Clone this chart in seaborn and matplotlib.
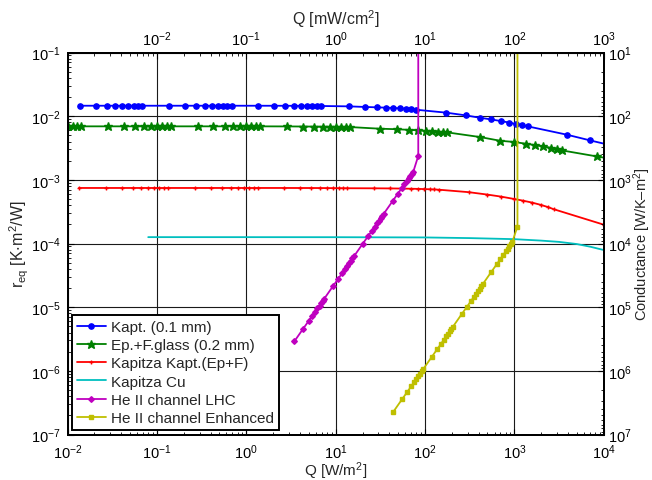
import matplotlib
matplotlib.use("Agg")
import matplotlib.pyplot as plt
import seaborn as sns
from matplotlib.ticker import LogLocator, NullFormatter, LogFormatterMathtext, FixedLocator

# ---------------- data ----------------
kapt_q = [0.0137, 0.0206, 0.0274, 0.0343, 0.0411, 0.0480, 0.0548, 0.0617, 0.0685,
          0.137, 0.206, 0.274, 0.343, 0.411, 0.480, 0.548, 0.617, 0.685,
          1.37, 2.06, 2.74, 3.43, 4.11, 4.80, 5.48, 6.17, 6.86,
          14.0, 21.2, 28.7, 36.2, 44.1, 52.3, 60.6, 69.0, 78.5,
          173, 285, 409, 544, 704, 873, 1037, 1233, 1425,
          3865, 7060, 11200]
kapt_r = [0.01459, 0.01459, 0.01459, 0.01459, 0.01459, 0.01459, 0.01459, 0.01459, 0.01459,
          0.01459, 0.01459, 0.01459, 0.01459, 0.01459, 0.01459, 0.01459, 0.01459, 0.01459,
          0.01458, 0.01457, 0.01456, 0.01455, 0.01453, 0.01451, 0.01449, 0.01447, 0.01445,
          0.01426, 0.01396, 0.01377, 0.01361, 0.01346, 0.01327, 0.01312, 0.01297, 0.01265,
          0.01135, 0.01030, 0.00946, 0.00891, 0.00839, 0.00794, 0.00753, 0.00726, 0.00690,
          0.00512, 0.00416, 0.00357]

glass_q = [0.0100, 0.0114, 0.0129, 0.0143, 0.0286, 0.0429, 0.0572, 0.0715, 0.0858, 0.100, 0.114, 0.129, 0.143,
           0.286, 0.429, 0.572, 0.715, 0.858, 1.00, 1.14, 1.29, 1.43,
           2.87, 4.31, 5.75, 7.20, 8.66, 10.1, 11.6, 13.1, 14.6,
           31.5, 48.1, 65.6, 83.5, 101.9, 120.7, 140.4, 160.1, 178,
           413, 692, 993, 1343, 1693, 2118, 2560, 2987, 3457,
           8394, 14830]
glass_r = [0.00692, 0.00692, 0.00692, 0.00692, 0.00692, 0.00692, 0.00692, 0.00692, 0.00692, 0.00692, 0.00692, 0.00692, 0.00692,
           0.00692, 0.00692, 0.00692, 0.00692, 0.00692, 0.00692, 0.00692, 0.00692, 0.00692,
           0.00690, 0.00688, 0.00686, 0.00684, 0.00682, 0.00680, 0.00678, 0.00676, 0.00674,
           0.00635, 0.00624, 0.00610, 0.00599, 0.00589, 0.00580, 0.00570, 0.00562, 0.00556,
           0.00470, 0.00411, 0.00393, 0.00369, 0.00352, 0.00334, 0.00319, 0.00304, 0.00289,
           0.00233, 0.00203]

kapkap_q = [0.0134, 0.0268, 0.0403, 0.0537, 0.0671, 0.0805, 0.0940, 0.107, 0.121, 0.134,
            0.268, 0.403, 0.537, 0.671, 0.805, 0.940, 1.07, 1.21, 1.34,
            2.68, 4.03, 5.37, 6.71, 8.06, 9.41, 10.8, 12.1, 13.5,
            27.2, 40.9, 54.9, 69.0, 83.2, 97.8, 112.5, 127.5, 142.9,
            309, 497, 705, 983, 1240, 1570, 1980, 2400, 2750,
            10200]
kapkap_r = [7.45e-4, 7.45e-4, 7.45e-4, 7.45e-4, 7.45e-4, 7.45e-4, 7.45e-4, 7.45e-4, 7.45e-4, 7.45e-4,
            7.45e-4, 7.45e-4, 7.45e-4, 7.45e-4, 7.45e-4, 7.45e-4, 7.45e-4, 7.45e-4, 7.45e-4,
            7.45e-4, 7.44e-4, 7.44e-4, 7.43e-4, 7.42e-4, 7.41e-4, 7.40e-4, 7.39e-4, 7.38e-4,
            7.36e-4, 7.33e-4, 7.29e-4, 7.25e-4, 7.21e-4, 7.16e-4, 7.11e-4, 7.06e-4, 7.00e-4,
            6.40e-4, 5.87e-4, 5.46e-4, 5.02e-4, 4.72e-4, 4.40e-4, 4.04e-4, 3.72e-4, 3.46e-4,
            1.96e-4]

kapcu_q = [0.08, 1.0, 10.0, 100.0, 316, 1000, 2000, 3162, 5012, 7079, 10000]
kapcu_r = [1.259e-4, 1.258e-4, 1.256e-4, 1.245e-4, 1.216e-4, 1.17e-4, 1.11e-4, 1.06e-4, 9.8e-5, 8.9e-5, 7.9e-5]

lhc_q = [3.451, 4.345, 4.977, 5.483, 5.902, 6.266, 6.607, 6.902, 7.178, 7.430,
         9.354, 10.72, 11.80, 12.71, 13.49, 14.22, 14.86, 15.45, 16.00,
         20.14, 23.07, 25.41, 27.35, 29.04, 30.62, 31.99, 33.27, 34.43,
         43.35, 49.66, 54.70, 58.88, 62.52, 65.92, 68.87, 71.61, 74.13,
         84.14, 84.14]
lhc_r = [2.898e-6, 4.603e-6, 6.028e-6, 7.295e-6, 8.472e-6, 9.575e-6, 1.0595e-5, 1.1591e-5, 1.2538e-5, 1.3459e-5,
         2.138e-5, 2.799e-5, 3.390e-5, 3.934e-5, 4.448e-5, 4.923e-5, 5.384e-5, 5.825e-5, 6.25e-5,
         9.93e-5, 1.300e-4, 1.574e-4, 1.828e-4, 2.066e-4, 2.286e-4, 2.501e-4, 2.705e-4, 2.904e-4,
         4.614e-4, 6.041e-4, 7.313e-4, 8.492e-4, 9.597e-4, 1.0619e-3, 1.1616e-3, 1.2568e-3, 1.349e-3,
         2.377e-3, 10.0]

enh_q = [44.16, 55.59, 63.68, 70.15, 75.51, 80.17, 84.53, 88.31, 91.83, 95.06,
         119.7, 137.1, 151.0, 162.6, 172.6, 182.0, 190.1, 197.7, 204.6,
         257.6, 295.1, 325.1, 349.9, 371.5, 391.7, 409.3, 425.6, 440.6,
         554.6, 635.3, 699.8, 753.4, 799.8, 843.3, 881.0, 916.2, 948.4,
         1084, 1084]
enh_r = [2.264e-7, 3.598e-7, 4.711e-7, 5.702e-7, 6.622e-7, 7.484e-7, 8.281e-7, 9.059e-7, 9.801e-7, 1.052e-6,
         1.671e-6, 2.188e-6, 2.649e-6, 3.075e-6, 3.476e-6, 3.846e-6, 4.208e-6, 4.552e-6, 4.888e-6,
         7.764e-6, 1.0166e-5, 1.2304e-5, 1.429e-5, 1.615e-5, 1.787e-5, 1.955e-5, 2.115e-5, 2.270e-5,
         3.606e-5, 4.722e-5, 5.716e-5, 6.637e-5, 7.502e-5, 8.301e-5, 9.081e-5, 9.823e-5, 1.0544e-4,
         1.845e-4, 10.0]

labels = ["Kapt. (0.1 mm)", "Ep.+F.glass (0.2 mm)", "Kapitza Kapt.(Ep+F)",
          "Kapitza Cu", "He II channel LHC", "He II channel Enhanced"]
bottom_ticks = [1e-2, 1e-1, 1e0, 1e1, 1e2, 1e3, 1e4]
top_ticks = [1e-2, 1e-1, 1e0, 1e1, 1e2, 1e3]
left_ticks = [1e-7, 1e-6, 1e-5, 1e-4, 1e-3, 1e-2, 1e-1]
right_ticks = [1e1, 1e2, 1e3, 1e4, 1e5, 1e6, 1e7]

# ---------------- style ----------------
sns.set_style("ticks")
plt.rcParams['font.family'] = ['Liberation Sans', 'DejaVu Sans']
plt.rcParams['mathtext.fontset'] = 'custom'
plt.rcParams['mathtext.rm'] = 'Liberation Sans'
plt.rcParams['mathtext.it'] = 'Liberation Sans:italic'
plt.rcParams['mathtext.bf'] = 'Liberation Sans:bold'
plt.rcParams['mathtext.default'] = 'regular'

FS = 10.5     # tick labels
LFS = 11.5    # axis labels
GFS = 11      # legend
W, H = 652, 481
fig = plt.figure(figsize=(6.52, 4.81), dpi=100)
L, R, T, B = 67.5, 603.7, 53.5, 435.5
ax = fig.add_axes([L/W, 1-B/H, (R-L)/W, (B-T)/H])

series = [
    (kapt_q, kapt_r, (0, 0, 1), 'o', 3.8, 1.0),
    (glass_q, glass_r, (0, 0.5, 0), '*', 6.3, 1.0),
    (kapkap_q, kapkap_r, (1, 0, 0), '+', 3.5, 1.0),
    (kapcu_q, kapcu_r, (0, 0.75, 0.75), None, 0, 1.0),
    (lhc_q, lhc_r, (0.75, 0, 0.75), 'D', 2.9, 1.0),
    (enh_q, enh_r, (0.75, 0.75, 0), 's', 3.3, 1.0),
]
for (q, r, c, m, ms, mew), lab in zip(series, labels):
    kw = dict(marker=m, markersize=ms, markeredgewidth=mew,
              markerfacecolor=c, markeredgecolor=c) if m else {}
    sns.lineplot(x=q, y=r, ax=ax, color=c, linewidth=1.3, label=lab,
                 sort=False, estimator=None, **kw)

ax.set_xscale('log')
ax.set_yscale('log')
ax.set_xlim(1e-2, 1e4)
ax.set_ylim(1e-7, 1e-1)

ax.xaxis.set_major_locator(FixedLocator(bottom_ticks))
ax.yaxis.set_major_locator(FixedLocator(left_ticks))
ax.xaxis.set_major_formatter(LogFormatterMathtext())
ax.yaxis.set_major_formatter(LogFormatterMathtext())
ax.xaxis.set_minor_locator(LogLocator(base=10, subs=range(2, 10), numticks=30))
ax.yaxis.set_minor_locator(LogLocator(base=10, subs=range(2, 10), numticks=30))
ax.xaxis.set_minor_formatter(NullFormatter())
ax.yaxis.set_minor_formatter(NullFormatter())
ax.grid(True, which='major', color='#1a1a1a', linewidth=0.8)
ax.grid(False, which='minor')
ax.set_axisbelow(True)
ax.tick_params(which='both', direction='in', labelsize=FS, top=False, right=False, colors='k')
ax.tick_params(which='major', length=4, width=0.8)
ax.tick_params(which='minor', length=2.2, width=0.6)
ax.tick_params(axis='x', which='major', pad=5.5)
ax.tick_params(axis='y', which='major', pad=5)
ax.set_xlabel('Q [W/m$^2$]', fontsize=11)
ax.xaxis.set_label_coords(0.5, -(460 - B) / (B - T))
ax.set_ylabel('r$_{eq}$ [K$\\cdot$m$^2$/W]', fontsize=LFS, labelpad=0)

# top axis (mW/cm^2)
axt = ax.twiny()
axt.set_xscale('log')
axt.set_xlim(1e-3, 1e3)
axt.xaxis.set_major_locator(FixedLocator(top_ticks))
axt.xaxis.set_major_formatter(LogFormatterMathtext())
axt.xaxis.set_minor_locator(LogLocator(base=10, subs=range(2, 10), numticks=30))
axt.xaxis.set_minor_formatter(NullFormatter())
axt.tick_params(which='both', direction='in', labelsize=FS, colors='k')
axt.tick_params(which='major', length=4, width=0.8, pad=3)
axt.tick_params(which='minor', length=2.2, width=0.6)
axt.set_xlabel('Q [mW/cm$^2$]', fontsize=LFS, labelpad=4)

# right axis (conductance)
axr = ax.twinx()
axr.set_yscale('log')
axr.set_ylim(1e7, 1e1)
axr.yaxis.set_major_locator(FixedLocator(right_ticks))
axr.yaxis.set_major_formatter(LogFormatterMathtext())
axr.yaxis.set_minor_locator(LogLocator(base=10, subs=range(2, 10), numticks=30))
axr.yaxis.set_minor_formatter(NullFormatter())
axr.tick_params(which='both', direction='in', labelsize=FS, colors='k')
axr.tick_params(which='major', length=4, width=0.8, pad=3)
axr.tick_params(which='minor', length=2.2, width=0.6)
axr.set_ylabel('Conductance [W/K\u2013m$^2$]', fontsize=10.5)
axr.yaxis.set_label_coords((631 - L) / (R - L), 0.5)

for a in (ax, axt, axr):
    for s in a.spines.values():
        s.set_linewidth(1.4)
        s.set_color('k')

leg = ax.legend(loc='lower left', bbox_to_anchor=(0, 0), borderaxespad=0.3,
                frameon=True, fancybox=False, edgecolor='k', framealpha=1,
                handlelength=1.9, handletextpad=0.35, borderpad=0.3,
                labelspacing=0.28, fontsize=GFS)
leg.get_frame().set_linewidth(1.4)
leg.set_zorder(10)

fig.savefig('out.png', dpi=100)
